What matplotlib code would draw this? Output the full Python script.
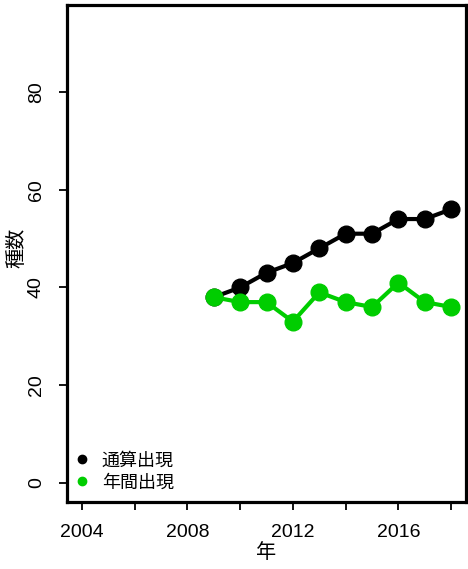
import matplotlib.pyplot as plt

plt.rcParams['font.family'] = ['Liberation Sans', 'Noto Sans CJK JP', 'DejaVu Sans']

years = [2009, 2010, 2011, 2012, 2013, 2014, 2015, 2016, 2017, 2018]
cumulative = [38, 40, 43, 45, 48, 51, 51, 54, 54, 56]
annual = [38, 37, 37, 33, 39, 37, 36, 41, 37, 36]
labels = ["通算出現", "年間出現"]
colors = ["black", "#00CD00"]

fig = plt.figure(figsize=(4.68, 5.69), dpi=100)
ax = fig.add_axes([0.1432, 0.1178, 0.8525, 0.8734])

ax.plot(years, cumulative, color=colors[0], lw=3, marker="o", ms=12, zorder=3)
ax.plot(years, annual, color=colors[1], lw=3, marker="o", ms=12, zorder=3)

ax.set_xlim(2003.44, 2018.56)
ax.set_ylim(-3.9, 97.8)
ax.set_xticks(range(2004, 2019, 2))
ax.set_xticklabels([str(y) if y % 4 == 0 else "" for y in range(2004, 2019, 2)])
ax.set_yticks([0, 20, 40, 60, 80])
ax.set_yticklabels(["0", "20", "40", "60", "80"], rotation=90, va="center")

for s in ax.spines.values():
    s.set_linewidth(2.3)
ax.tick_params(length=6, width=1.3, pad=10, labelsize=14)

# axis titles placed in figure pixels
fig.text(266 / 468, 1 - 552 / 569, "年", fontsize=14.5, ha="center", va="center")
fig.text(17 / 468, 1 - 248 / 569, "種数", fontsize=14.5, ha="center", va="center",
         rotation=90)

handles = [plt.Line2D([], [], ls="", marker="o", ms=6, color=c) for c in colors]
ax.legend(handles, labels, loc="lower left", bbox_to_anchor=(-0.012, -0.004),
          frameon=False, fontsize=13, handlelength=0.8, handletextpad=0.7,
          labelspacing=0.25, borderaxespad=0.3)

fig.savefig("out.png", dpi=100)
